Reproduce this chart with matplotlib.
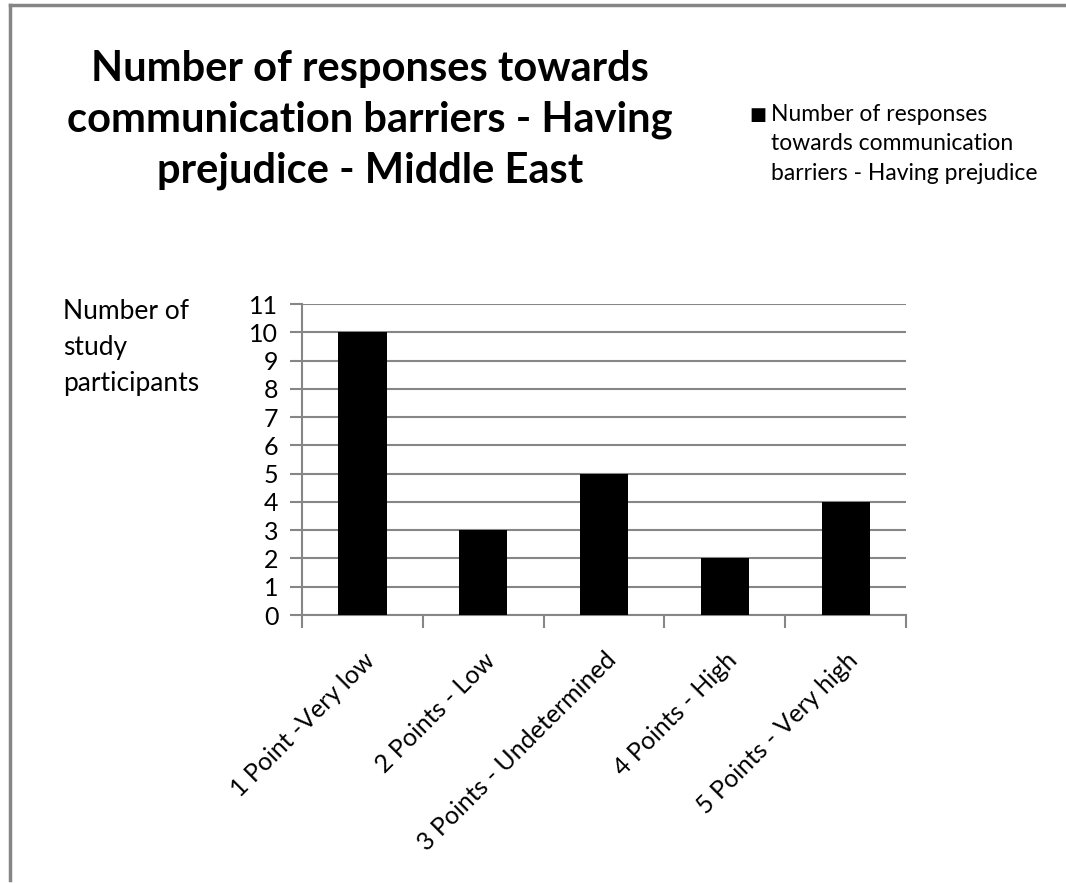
import matplotlib.pyplot as plt
from matplotlib.lines import Line2D

# Responses per scale point
categories = ["1 Point -Very low", "2 Points - Low", "3 Points - Undetermined",
              "4 Points - High", "5 Points - Very high"]
responses = [10, 3, 5, 2, 4]
yticks = list(range(0, 12))

title = "Number of responses towards\ncommunication barriers - Having\nprejudice - Middle East"
series_name = "Number of responses\ntowards communication\nbarriers - Having prejudice"

plt.rcParams['font.family'] = ['Lato', 'DejaVu Sans']
grey = '#868686'

fig = plt.figure(figsize=(10.66, 8.83), dpi=100)
ax = fig.add_axes([0.2833, 0.3035, 0.5667, 0.3522])

x = list(range(len(categories)))
ax.bar(x, responses, width=0.40, color='black', zorder=3)

ax.set_xlim(-0.5, len(categories) - 0.5)
ax.set_ylim(0, 11)
ax.set_yticks(yticks)
ax.set_yticklabels([str(v) for v in yticks], fontsize=18)
ax.yaxis.grid(True, color=grey, linewidth=1.5, zorder=0)
ax.set_axisbelow(True)

# category labels sit between boundary ticks
ax.set_xticks(x)
ax.set_xticklabels(categories, rotation=45, ha='right', rotation_mode='anchor', fontsize=18)
ax.tick_params(axis='x', length=0, pad=24)
ax.set_xticks([i - 0.5 for i in range(len(categories) + 1)], minor=True)
ax.tick_params(axis='x', which='minor', length=9, width=1.5, color=grey, direction='out')
ax.tick_params(axis='y', length=9, width=1.5, color=grey, direction='out', pad=8)

for side in ['top', 'right']:
    ax.spines[side].set_visible(False)
for side in ['left', 'bottom']:
    ax.spines[side].set_color(grey)
    ax.spines[side].set_linewidth(1.5)

fig.text(63 / 1066, 1 - 299 / 883, "Number of\nstudy\nparticipants", fontsize=19,
         ha='left', va='top', linespacing=1.55)

fig.text(370 / 1066, 1 - 50 / 883, title, fontsize=30, fontweight='bold',
         ha='center', va='top', linespacing=1.4)

# legend entry
fig.text(749 / 1066, 1 - 115 / 883, "\u25A0", fontsize=13, ha='left', va='center')
fig.text(771 / 1066, 1 - 104 / 883, series_name, fontsize=16.5,
         ha='left', va='top', linespacing=1.5)

# outer chart border (left and top edges)
fig.add_artist(Line2D([10 / 1066, 10 / 1066], [0.003, 1 - 5 / 883],
                      transform=fig.transFigure, color=grey, linewidth=2.5))
fig.add_artist(Line2D([10 / 1066, 1065 / 1066], [1 - 5 / 883, 1 - 5 / 883],
                      transform=fig.transFigure, color=grey, linewidth=2.5))

fig.savefig('out.png', dpi=100)
